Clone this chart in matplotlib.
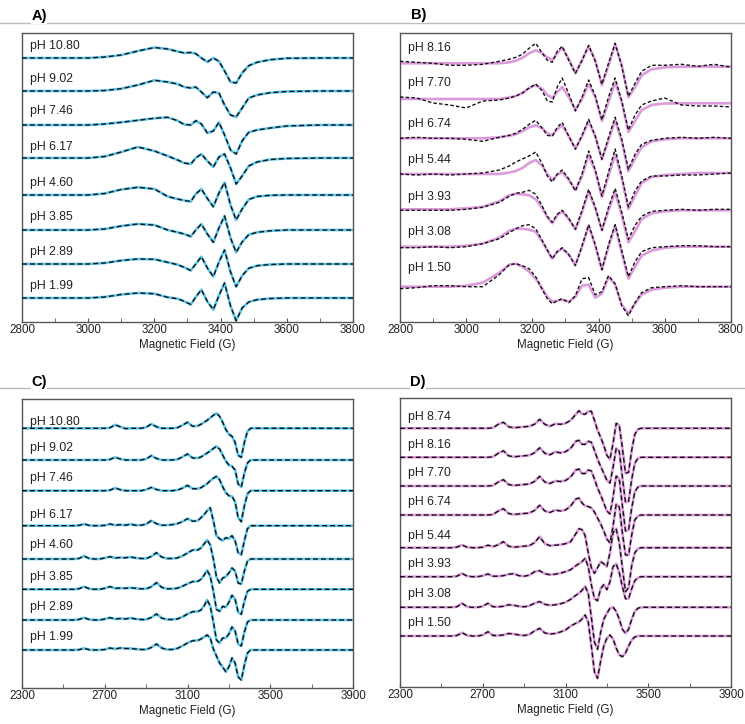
import numpy as np
import matplotlib.pyplot as plt
from matplotlib.lines import Line2D

plt.rcParams['font.family'] = ['Liberation Sans', 'DejaVu Sans']

# offsets are read in pixels above (+) / below (-) each trace's baseline

# ---------- panel A : 10 K spectra, cyan fits
field_a = [2800, 2900, 3000, 3050, 3100, 3150, 3200, 3240, 3270, 3290, 3310, 3325, 3342,
           3360, 3378, 3395, 3412, 3430, 3447, 3465, 3485, 3510, 3550, 3600, 3700, 3800]
ph_a = ['pH 10.80', 'pH 9.02', 'pH 7.46', 'pH 6.17', 'pH 4.60', 'pH 3.85', 'pH 2.89', 'pH 1.99']
a_1080 = [0, 0, 0, 1, 3, 7, 10.5, 9, 6.5, 5, 5.5, 4.3, 0, -4, 0, -3.3, -13, -24, -25, -15, -7.7, -4.3, -1.7, -0.3, 0, 0]
a_902 = [0, 0, 0, 0.5, 2.3, 6, 10.7, 9, 7, 4, 3, 4, -1, -6.7, -1, -2, -14, -24, -26, -17, -7, -4, -1.7, -0.5, 0, 0]
a_746 = [0, 0, 0, 1, 2.7, 4.7, 6.7, 7.7, 4.3, 0.5, 0, 4.3, 1, -8, -6, 2.7, -10, -25, -29, -16, -7.3, -5, -3, -1, 0, 0]
a_617 = [0, 0, 0, 1.5, 6, 11, 7, 2, -2, -5, -6, 0, 4, -3, -9, 1, 4, -10, -26, -18, -8, -4, -1.5, -0.5, 0, 0]
a_460 = [0, 0, 0, 1.5, 5.5, 7.7, 6, -1.5, -4, -5.5, -6.5, 1, 6, -3.5, -11.7, 2, 12.5, -10, -25, -14, -4.5, -1.5, -0.3, 0, 0, 0]
a_385 = [0, 0, 0, 1, 4, 6, 5, 0, -2.3, -4, -6.5, 0, 6, -4, -12.3, 2, 14, -8, -22.3, -12, -4.7, -2.3, -0.8, 0, 0, 0]
a_289 = [0, 0, 0, 1, 3.5, 5, 4.7, 1.7, -0.7, -3.3, -6.5, 0, 7.3, -4, -12.7, 2, 14, -8, -22.7, -11.7, -4.3, -1.7, -0.5, 0, 0, 0]
a_199 = [0, 0, 0, 1, 3.5, 5, 4.3, 0.7, -0.7, -3.3, -6.5, 1, 8.3, -3.5, -11.7, 2.5, 15, -8, -22.7, -10, -4, -1.7, -0.5, 0, 0, 0]

# ---------- panel B : 10 K spectra, pink fits, noisy experiment
field_b = [2800, 2850, 2900, 2950, 3000, 3050, 3100, 3130, 3150, 3170, 3190, 3210, 3230, 3245,
           3260, 3275, 3290, 3310, 3330, 3350, 3370, 3390, 3410, 3430, 3450, 3470, 3490, 3510,
           3530, 3560, 3600, 3650, 3700, 3750, 3800]
ph_b = ['pH 8.16', 'pH 7.70', 'pH 6.74', 'pH 5.44', 'pH 3.93', 'pH 3.08', 'pH 1.50']
b_sim_816 = [0, 0, 0, 0, 0, 0, 0, 1, 2.5, 5.5, 10, 13, 10, 6, 3, 10, 16, 4, -10, 3, 17, 3, -22, -2, 19, -2, -34, -24, -12, -6, -4, -3.5, -3.3, -3.3, -3.3]
b_exp_816 = [2, 1, 0, -2, -2, -1, 2, 4, 6, 9, 15, 20, 10, 3, 1, 12, 17, 3, -10, 3, 18, 2, -21, 0, 20, -3, -33, -20, -8, -2, -2, -1, -3, -1, -4]
b_sim_770 = [0, 0, 0, 0, 0, 0, 0, 1.5, 3, 6, 11, 14, 10, 4, 1, 7, 12, 2, -11, 0, 15, 2, -22, -3, 17, -3, -33, -22, -11, -6, -4.5, -4.3, -4.3, -4.3, -4.3]
b_exp_770 = [2, 1, -4, -6, -9, -2, -1, 1, 3, 6, 11, 15, 8, -2, -3, 12, 21, 5, -12, 2, 19, 3, -21, 2, 21, -2, -31, -16, -6, -2, 1, -6, -7, -7, -8]
b_sim_674 = [0, 0, 0, 0, 0, 0, 1, 2.5, 4, 7, 11, 13, 10, 5, 3, 9, 13, 2, -10, 2, 17, 2, -21, -2, 18, -3, -33, -20, -9, -3, -1, 0, 0, 0, 0]
b_exp_674 = [0, 1, 0, 0, -1, -3, 1, 3, 5, 9, 14, 18, 10, 3, 2, 11, 16, 2, -11, 3, 19, 2, -21, 1, 21, -1, -31, -16, -6, -2, 0, 1, 0, 1, 0]
b_sim_544 = [0, 0, 0, 0, 0, 0, 0, 1.5, 3, 6, 11, 14, 8, 0, -6, -1, 2, -6, -16, -2, 19, 3, -23, -2, 20, -4, -35, -22, -9, -3, -1, 0, 1, 1, 1]
b_exp_544 = [0, -1, 0, -1, 0, 1, 4, 8, 12, 15, 18, 22, 10, -2, -8, 0, 4, -5, -17, 0, 23, 4, -22, 2, 25, -2, -33, -17, -7, -2, -2, -1, -1, 0, 1]
b_sim_393 = [0, 0, 0, 0, 1, 2.5, 8, 14, 15.5, 15, 14, 10, 1, -8, -14, -6, -2, -10, -20, -3, 18, 1, -21, -1, 17, -6, -33, -22, -10, -4, -2, -1, -1, -1, -1]
b_exp_393 = [-1, -1, -1, -1, 0, 2, 7, 13, 16, 17, 19, 15, 3, -7, -13, -5, -1, -9, -20, -1, 20, 2, -21, 2, 21, -3, -30, -16, -7, -2, -1, 0, -1, 0, 0]
b_sim_308 = [0, 0, 0, 0, 1, 3, 9, 16, 18, 18, 17, 15, 5, -4, -12, -5, -2, -8, -18, 0, 21, 1, -23, 0, 21, -6, -32, -20, -9, -4, -1, 0, 0, 0, 0]
b_exp_308 = [-1, -1, 0, -1, 0, 3, 8, 14, 18, 21, 22, 18, 6, -3, -12, -5, -1, -8, -19, 1, 22, 2, -23, 2, 22, -4, -30, -15, -5, -1, 0, 1, 1, 0, 0]
b_sim_150 = [0, 0, 0, 0, 1, 4, 14, 22, 23, 20, 15, 8, -2, -10, -15, -14, -13, -15, -10, 1, 2, -11, -7, 10, 2, -18, -27, -17, -8, -3, -1, 0, 0, 0, 0]
b_exp_150 = [-2, -1, 1, 1, 0, 0, 12, 22, 23, 21, 18, 10, -3, -12, -17, -14, -12, -16, -9, 8, 9, -8, -5, 11, 3, -19, -29, -16, -6, -1, 0, 1, 0, 0, 0]

# ---------- panel C : wide scan, cyan fits
field_c = [2300, 2400, 2500, 2550, 2575, 2600, 2625, 2650, 2675, 2700, 2725, 2750, 2775, 2800,
           2825, 2850, 2875, 2900, 2925, 2950, 2975, 3000, 3025, 3050, 3075, 3100, 3125, 3150,
           3165, 3180, 3195, 3210, 3225, 3240, 3255, 3270, 3285, 3300, 3315, 3330, 3345, 3360,
           3375, 3390, 3405, 3420, 3450, 3500, 3600, 3700, 3800, 3900]
ph_c = ph_a
c_1080 = [0] * 10 + [0.5, 3.5, 1.5, -0.3, 0, 0, 0, 1, 4.3, 1.5, 0, 0, 0, 0.5, 3, 6, 2, 2.5, 4, 6, 8, 10.5,
                     13, 15, 12, 6, -1, -6, -8, -14, -27, -29, -14, -3, 0] + [0] * 7
c_902 = [0] * 10 + [0.5, 2.7, 1, 0, 0, 0, 0, 1, 4.3, 1.5, 0, 0, 0, 0.5, 3, 6, 2, 2, 3, 5, 7, 9, 11.5,
                    13.7, 11, 5, -1, -5, -6.3, -10, -24, -27, -13, -3, 0] + [0] * 7
c_746 = [0] * 10 + [0.5, 2.7, 1, 0, 0, 0, 0, 1, 3.3, 1.2, 0, 0, 0, 0.5, 2.5, 5.3, 2, 2, 3, 5, 7, 10, 12.5,
                    14.3, 11, 4, -2, -5, -5.7, -11, -27, -31, -15, -3, 0] + [0] * 7
c_617 = [0, 0, 0, 0, 0.3, 1.7, 0.3, 0, 0, 0.3, 1.7, 0.5, 1, 0.5, 1.5, 0.5, 0.5, 1.5, 5, 2, 0.5, 0.5, 1, 2,
         4, 7, 4.5, 5, 8, 11, 15, 18, 5, -10, -13, -15, -12, -13, -10, -15, -27, -29, -15, -3, 0, 0,
         0, 0, 0, 0, 0, 0]
c_460 = [0, 0, 0, 0, 0.5, 3, 0.5, 0, 0, 1, 2.3, 1, 1.5, 1.2, 2, 1, 0.5, 0.5, 2.5, 6.3, 2, 0.5, 0.5, 1,
         3, 6, 9, 9, 11, 15, 19, 14, 0, -18, -24, -19, -17.7, -14, -9, -12, -24, -25, -12, -2, 0, 0,
         0, 0, 0, 0, 0, 0]
c_385 = [0, 0, 0, 0, 0.5, 2.7, 0.5, 0, 0, 1, 2.7, 1, 1.2, 1, 1.5, 1, 0.5, 0.5, 2.5, 6.7, 2, 0.5, 0.5, 1,
         3, 5.5, 7.7, 8, 10, 14, 19, 13, -2, -20, -22, -17, -18, -13, -6, -10, -23, -25, -12, -2, 0, 0,
         0, 0, 0, 0, 0, 0]
c_289 = [0, 0, 0, 0, 0.5, 2.3, 0.5, 0, 0, 1, 2.3, 1, 1.5, 1, 2, 1, 0.5, 0.5, 2.5, 6, 2, 0.5, 0.5, 1,
         3, 6, 8.3, 8.5, 10, 14, 20, 14, -2, -20, -23, -18, -18, -14, -7, -11, -24, -26, -12, -2, 0, 0,
         0, 0, 0, 0, 0, 0]
c_199 = [0, 0, 0, 0, 0.3, 1.7, 0.3, 0, 0, 0.5, 2, 1, 2, 1.5, 1.5, 1, 0.5, 0.5, 2.5, 6, 2, 0.5, 0.5, 1.5,
         4, 7, 9.3, 9.5, 11, 13, 15, 12, 1, -6, -13, -17, -21.7, -17, -8, -13, -27, -30, -15, -3, 0, 0,
         0, 0, 0, 0, 0, 0]

# ---------- panel D : wide scan, pink fits
field_d = [2300, 2400, 2500, 2550, 2575, 2600, 2625, 2650, 2675, 2700, 2725, 2750, 2775, 2800,
           2825, 2850, 2875, 2900, 2925, 2950, 2975, 3000, 3025, 3050, 3075, 3100, 3125, 3150,
           3165, 3180, 3195, 3210, 3225, 3240, 3255, 3270, 3285, 3300, 3315, 3330, 3345, 3360,
           3375, 3390, 3405, 3420, 3435, 3450, 3465, 3500, 3600, 3700, 3800, 3900]
ph_d = ['pH 8.74', 'pH 8.16', 'pH 7.70', 'pH 6.74', 'pH 5.44', 'pH 3.93', 'pH 3.08', 'pH 1.50']
d_874 = [0, 0, 0, 0, 0, 0, 0, 0, 0, 0, 0, 0.5, 4, 6, 1.5, 0.5, 1, 1.5, 2, 4, 9, 4, 2, 4.5, 4, 5, 8, 14,
         17.5, 14.5, 14, 17, 17, 8, -2, -9, -17, -27, -31, -15, 5, 3, -20, -45, -44, -22, -6, -1, 0,
         0, 0, 0, 0, 0]
d_816 = [0, 0, 0, 0, 0, 0, 0, 0, 0, 0, 0, 0.5, 4, 6.5, 1.5, 0.5, 1, 1.5, 2, 4.5, 9.5, 4, 2.5, 5.5, 4.5,
         5.5, 9, 16, 17, 13, 13, 16, 15, 7, -2, -9, -16, -23, -25.7, -10, 9, 6, -20, -45, -44, -22, -6,
         -1, 0, 0, 0, 0, 0, 0]
d_770 = [0, 0, 0, 0, 0, 0, 0, 0, 0, 0, 0, 0.5, 4, 6.3, 1.5, 0.5, 1, 1.5, 2, 4.5, 9.7, 4, 2.5, 5, 4.5,
         5.5, 9, 16, 17, 12.5, 12.5, 16, 15, 7, -2, -9, -17, -25, -28, -11, 10, 7, -20, -45, -44, -22,
         -6, -1, 0, 0, 0, 0, 0, 0]
d_674 = [0, 0, 0, 0, 0, 0, 0, 0, 0, 0, 0, 0.5, 4, 6.3, 1.5, 0.5, 1, 1.5, 2, 4.5, 9.7, 4, 2.5, 5, 4, 5,
         9, 16, 17, 12, 9, 8.5, 7, 3, -3, -9, -16, -24, -28, -11, 11, 8, -18, -40, -40, -20, -5, -1, 0,
         0, 0, 0, 0, 0]
d_544 = [0, 0, 0, 0, 0.5, 2.7, 0.5, 0, 0, 0.5, 2.5, 1, 3, 6, 1.5, 0.5, 1, 1.5, 2, 5, 11, 4, 2, 2.5, 3,
         4, 6, 14, 19, 18, 12, -5, -20, -25.7, -20, -14, -16, -19, -5, 15, 19, 5, -20, -44, -40, -18,
         -5, -1, 0, 0, 0, 0, 0, 0]
d_393 = [0, 0, 0, 0, 0.5, 3.3, 0.5, 0, 0, 1, 2.7, 0.5, 0.5, 1, 2.5, 3, 1, 0.5, 1.5, 5, 6, 3, 2, 2.5,
         3.5, 5, 7, 11, 13, 15, 18.5, 10, -8, -22, -24, -12, -8, -13, -5, 10, 13, 4, -10, -22, -22, -12,
         -4, -1, 0, 0, 0, 0, 0, 0]
d_308 = [0, 0, 0, 0, 0.5, 4, 0.5, 0, 0, 1, 4, 0.5, 0.5, 1, 2.5, 2, 1, 0.5, 1.5, 4, 5.7, 3, 2, 2.5, 3.5,
         5, 8, 12, 14, 17, 21, 14, -10, -35, -42, -25, -12, -6, -1, 0, -4, -12, -22, -26, -22, -12, -4,
         -1, 0, 0, 0, 0, 0, 0]
d_150 = [0, 0, 0, 0, 0.5, 3.3, 0.5, 0, 0, 1, 4.3, 0.5, 0.5, 1, 2.5, 2, 1, 0.5, 1.5, 5, 7.7, 3, 2, 2.5,
         4, 6, 10, 12.7, 14, 17, 21, 14, -10, -36, -42.3, -25, -10, -2.3, 1, -3, -12, -19, -20.7, -17,
         -10, -4, -1, 0, 0, 0, 0, 0, 0, 0]

# layout (pixels inside each 289 px tall axes, measured from its bottom)
base_a = [264, 231, 197, 164, 127, 92, 58, 24]
lab_a = [276, 242.7, 211.3, 175.3, 139.3, 105.3, 70.3, 36]
base_b = [258.7, 223, 183.7, 148, 112.7, 75.3, 35.3]
lab_b = [273.7, 239.3, 198, 162, 125.3, 90.3, 53.7]
base_c = [259.7, 228, 197.3, 162.3, 129, 98.7, 68, 38]
lab_c = [265.5, 239.7, 209.7, 173, 143, 111.3, 80.7, 50.7]
base_d = [258.7, 229.7, 201, 172, 139.3, 110.3, 79.7, 51]
lab_d = [270.3, 242, 213.7, 185.3, 151.3, 122.7, 93, 63.7]

CYAN = '#5CC6EA'
PINK = '#DC9ADC'

W, H = 745, 724
fig = plt.figure(figsize=(W / 100, H / 100), dpi=100)


def panel(left, top, field, sims, exps, bases, labels, label_y, color, xlim, major, minor, dash):
    ax = fig.add_axes([left / W, 1 - (top + 289) / H, 331 / W, 289 / H])
    for sim, exp, b in zip(sims, exps, bases):
        ax.plot(field, np.asarray(sim) + b, color=color, lw=1.9, zorder=2)
        ax.plot(field, np.asarray(exp) + b, color='#111111', lw=1.0,
                ls=(0, dash), zorder=3)
    tr = ax.get_yaxis_transform()
    for txt, y in zip(labels, label_y):
        ax.text(0.024, y, txt, transform=tr, fontsize=8.8, va='center', ha='left', color='#222222')
    ax.set_xlim(*xlim)
    ax.set_ylim(0, 289)
    ax.set_yticks([])
    ax.set_xticks(major)
    ax.set_xticks(minor, minor=True)
    ax.tick_params(axis='x', which='both', direction='in', length=3, pad=1.5,
                   labelsize=8.4, color='#555555', labelcolor='#222222')
    for s in ax.spines.values():
        s.set_color('#555555')
        s.set_linewidth(1.0)
    ax.set_xlabel('Magnetic Field (G)', fontsize=8.4, color='#222222', labelpad=2)
    return ax


a_tr = [a_1080, a_902, a_746, a_617, a_460, a_385, a_289, a_199]
panel(22, 33, field_a, a_tr, a_tr, base_a, ph_a, lab_a, CYAN,
      (2800, 3800), range(2800, 3801, 200), range(2900, 3800, 200), (3.5, 2.2))

b_sims = [b_sim_816, b_sim_770, b_sim_674, b_sim_544, b_sim_393, b_sim_308, b_sim_150]
b_exps = [b_exp_816, b_exp_770, b_exp_674, b_exp_544, b_exp_393, b_exp_308, b_exp_150]
panel(400, 33, field_b, b_sims, b_exps, base_b, ph_b, lab_b, PINK,
      (2800, 3800), range(2800, 3801, 200), range(2900, 3800, 200), (2.5, 1.6))

c_tr = [c_1080, c_902, c_746, c_617, c_460, c_385, c_289, c_199]
panel(22, 399, field_c, c_tr, c_tr, base_c, ph_c, lab_c, CYAN,
      (2300, 3900), range(2300, 3901, 400), range(2500, 3900, 400), (3.5, 2.2))

d_tr = [d_874, d_816, d_770, d_674, d_544, d_393, d_308, d_150]
panel(400, 398, field_d, d_tr, d_tr, base_d, ph_d, lab_d, PINK,
      (2300, 3900), range(2300, 3901, 400), range(2500, 3900, 400), (3.5, 2.2))

# thin grey rules under the panel letters
for y in (23, 388):
    fig.add_artist(Line2D([0, 1], [1 - y / H] * 2, color='#bbbbbb', lw=1.0))
for x, y, t in [(39, 16, 'A)'), (419, 15, 'B)'), (39, 382, 'C)'), (418, 382, 'D)')]:
    fig.text(x / W, 1 - y / H, t, fontsize=10.5, fontweight='bold', ha='center', va='center',
             bbox=dict(facecolor='white', edgecolor='none', pad=0.5))

fig.savefig('out.png', dpi=100)
